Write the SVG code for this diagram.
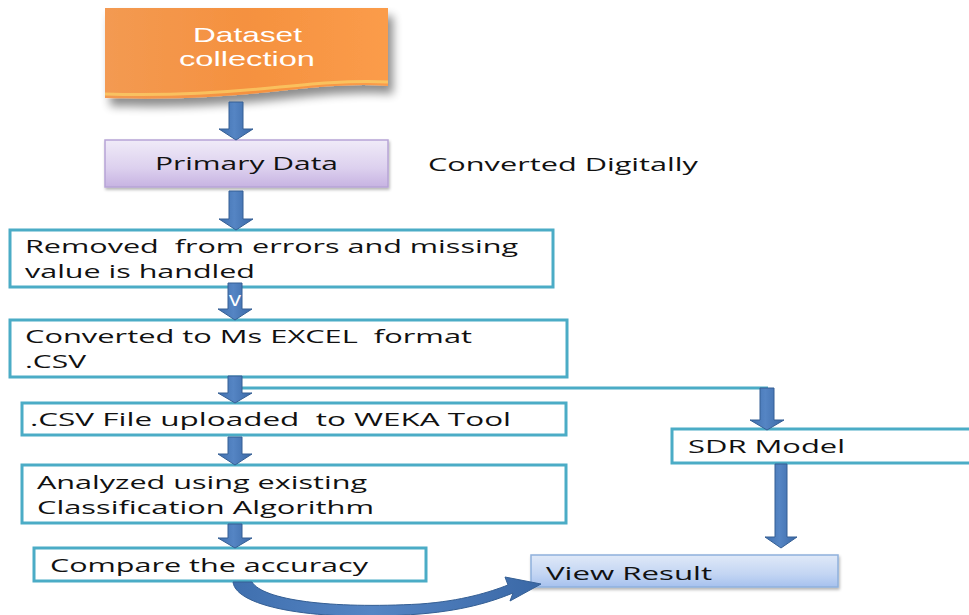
<svg xmlns="http://www.w3.org/2000/svg" width="969" height="615" viewBox="0 0 969 615" xml:space="preserve">
  <defs>
    <linearGradient id="orangeFill" x1="0" y1="0" x2="1" y2="0">
      <stop offset="0" stop-color="#f39a52"/>
      <stop offset="0.5" stop-color="#f5913f"/>
      <stop offset="1" stop-color="#fb9c4a"/>
    </linearGradient>
    <linearGradient id="purpleFill" x1="0" y1="0" x2="0" y2="1">
      <stop offset="0" stop-color="#f0ebf8"/>
      <stop offset="0.6" stop-color="#dcd0ee"/>
      <stop offset="1" stop-color="#c7b3e2"/>
    </linearGradient>
    <linearGradient id="blueFill" x1="0" y1="0" x2="0" y2="1">
      <stop offset="0" stop-color="#e0e9f8"/>
      <stop offset="0.6" stop-color="#c3d5f3"/>
      <stop offset="1" stop-color="#a6c1ee"/>
    </linearGradient>
    <linearGradient id="arrowFill" x1="0" y1="0" x2="1" y2="0">
      <stop offset="0" stop-color="#3f6fae"/>
      <stop offset="0.45" stop-color="#5585c4"/>
      <stop offset="1" stop-color="#3a68a6"/>
    </linearGradient>
    <filter id="softShadow" x="-10%" y="-20%" width="130%" height="160%">
      <feGaussianBlur in="SourceAlpha" stdDeviation="5"/>
      <feOffset dx="5" dy="8" result="blur"/>
      <feComponentTransfer><feFuncA type="linear" slope="0.45"/></feComponentTransfer>
      <feMerge><feMergeNode/><feMergeNode in="SourceGraphic"/></feMerge>
    </filter>
    <filter id="lightShadow" x="-5%" y="-20%" width="115%" height="160%">
      <feGaussianBlur in="SourceAlpha" stdDeviation="1.5"/>
      <feOffset dx="1" dy="2"/>
      <feComponentTransfer><feFuncA type="linear" slope="0.3"/></feComponentTransfer>
      <feMerge><feMergeNode/><feMergeNode in="SourceGraphic"/></feMerge>
    </filter>
  </defs>
  <style>
    text { font-family: "Open Sans", "Liberation Sans", sans-serif; font-size: 19px; fill: #111; white-space: pre; }
    .big { font-family: "Liberation Sans", "Open Sans", sans-serif; font-size: 21px; fill: #ffffff; }
    .step { fill: #ffffff; stroke: #4bacc6; stroke-width: 3; }
    .arrow { fill: url(#arrowFill); stroke: #355f94; stroke-width: 1; }
    .link { fill: none; stroke: #4bacc6; stroke-width: 3; }
  </style>

  <rect width="969" height="615" fill="#ffffff"/>

  <!-- Start: wavy document shape -->
  <g id="dataset-collection">
    <path d="M105,8 L388,8 L388,86 C350,83 310,88 270,92 C220,97 170,100 105,98 Z" fill="url(#orangeFill)" filter="url(#softShadow)"/>
    <path d="M105,94 C170,96 220,93 270,88 C310,84 350,80 388,82" fill="none" stroke="#fbd36a" stroke-width="3" opacity="0.7"/>
    <text class="big" x="193" y="42" textLength="109" lengthAdjust="spacingAndGlyphs">Dataset</text>
    <text class="big" x="179" y="66" textLength="136" lengthAdjust="spacingAndGlyphs">collection</text>
  </g>

  <g id="primary-data">
    <rect x="105" y="140" width="283" height="47" fill="url(#purpleFill)" stroke="#b7a4d6" stroke-width="1.5" filter="url(#lightShadow)"/>
    <text x="155" y="170" textLength="183" lengthAdjust="spacingAndGlyphs">Primary Data</text>
  </g>

  <g id="converted-digitally">
    <text x="428" y="171" textLength="270" lengthAdjust="spacingAndGlyphs">Converted Digitally</text>
  </g>

  <g id="remove-errors">
    <rect class="step" x="10" y="230" width="543" height="57"/>
    <text x="25" y="253" textLength="493" lengthAdjust="spacingAndGlyphs">Removed  from errors and missing</text>
    <text x="25" y="278" textLength="230" lengthAdjust="spacingAndGlyphs">value is handled</text>
  </g>

  <g id="convert-excel">
    <rect class="step" x="10" y="320" width="557" height="57"/>
    <text x="25" y="343" textLength="447" lengthAdjust="spacingAndGlyphs">Converted to Ms EXCEL  format</text>
    <text x="25" y="368" textLength="61" lengthAdjust="spacingAndGlyphs">.CSV</text>
  </g>

  <g id="upload-weka">
    <rect class="step" x="22" y="403" width="544" height="32"/>
    <text x="30" y="426" textLength="481" lengthAdjust="spacingAndGlyphs">.CSV File uploaded  to WEKA Tool</text>
  </g>

  <g id="analyze">
    <rect class="step" x="22" y="465" width="544" height="58"/>
    <text x="37" y="489" textLength="330" lengthAdjust="spacingAndGlyphs">Analyzed using existing</text>
    <text x="37" y="514" textLength="337" lengthAdjust="spacingAndGlyphs">Classification Algorithm</text>
  </g>

  <g id="compare-accuracy">
    <rect class="step" x="34" y="548" width="392" height="33"/>
    <text x="50" y="572" textLength="318" lengthAdjust="spacingAndGlyphs">Compare the accuracy</text>
  </g>

  <g id="sdr-model">
    <rect class="step" x="672" y="429" width="305" height="34"/>
    <text x="688" y="453" textLength="157" lengthAdjust="spacingAndGlyphs">SDR Model</text>
  </g>

  <g id="view-result">
    <rect x="531" y="555" width="307" height="32" fill="url(#blueFill)" stroke="#8fb0dc" stroke-width="1.5" filter="url(#lightShadow)"/>
    <text x="546" y="580" textLength="166" lengthAdjust="spacingAndGlyphs">View Result</text>
  </g>

  <g id="connectors">
    <!-- branch line to the SDR model -->
    <path class="link" d="M236,388 H768"/>

    <!-- block arrows: shaft half-width 7, head half-width 17 -->
    <path class="arrow" d="M229,102 H243 V129 H253 L236,140 L219,129 H229 Z"/>
    <path class="arrow" d="M229,191 H243 V219 H253 L236,230 L219,219 H229 Z"/>
    <path class="arrow" d="M228,283 H242 V309 H252 L235,320 L218,309 H228 Z"/>
    <text x="235" y="306" text-anchor="middle" textLength="12" lengthAdjust="spacingAndGlyphs" style="font-size:20px;fill:#ffffff">v</text>
    <path class="arrow" d="M228,376 H242 V393 H252 L235,403 L218,393 H228 Z"/>
    <path class="arrow" d="M228,437 H242 V454 H252 L235,465 L218,454 H228 Z"/>
    <path class="arrow" d="M228,524 H242 V538 H252 L235,548 L218,538 H228 Z"/>
    <path class="arrow" d="M760,388 H774 V420 H784 L767,430 L750,420 H760 Z"/>
    <path class="arrow" d="M775,464 H787 V537 H797 L781,548 L765,537 H775 Z"/>

    <!-- curved arrow from the accuracy comparison to the result -->
    <path class="arrow" d="M233,582 C236,608 320,622 420,614 C470,610 498,599 513,593 L510,601 L541,584 L505,577 L508,585 C490,592 462,601 420,604 C330,609 263,600 252,582 Z"/>
  </g>
</svg>
